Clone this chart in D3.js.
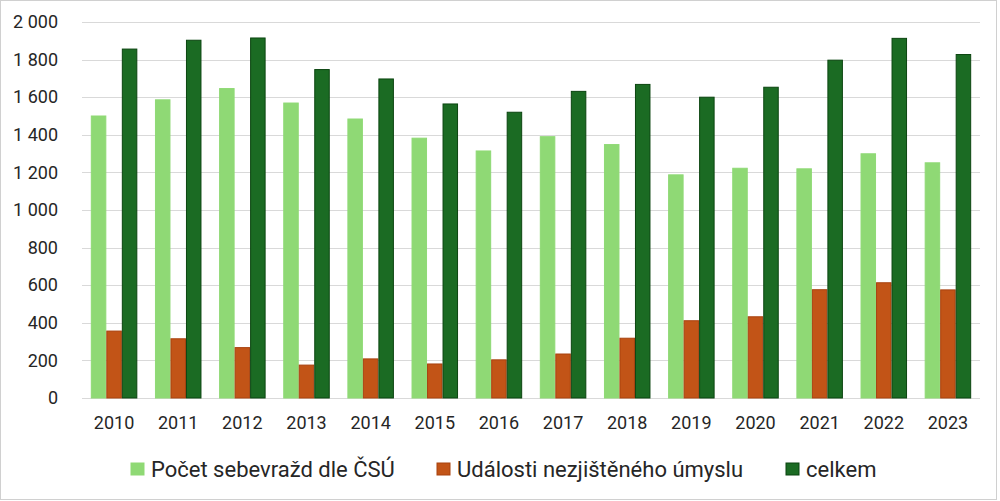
<!DOCTYPE html>
<html>
<head>
<meta charset="utf-8">
<script src="https://cdn.jsdelivr.net/npm/d3@7"></script>
<style>
  html, body { margin: 0; padding: 0; background: #fff; }
  text { font-family: Roboto, "Noto Sans", sans-serif; fill: #262626; }
</style>
</head>
<body>
<div id="chart"></div>
<script>
// data
const years = ["2010", "2011", "2012", "2013", "2014", "2015", "2016",
  "2017", "2018", "2019", "2020", "2021", "2022", "2023"];
const seriesNames = ["Počet sebevražd dle ČSÚ", "Události nezjištěného úmyslu", "celkem"];
const sebevrazdy = [1500, 1586, 1646, 1569, 1484, 1382, 1314, 1390, 1348, 1187, 1222, 1219, 1299, 1251];
const nezjisteno = [356, 315, 268, 175, 208, 181, 203, 234, 318, 411, 432, 576, 613, 575];
const celkem = [1856, 1903, 1915, 1747, 1697, 1564, 1520, 1631, 1668, 1600, 1653, 1797, 1913, 1827];
const yTicks = [0, 200, 400, 600, 800, 1000, 1200, 1400, 1600, 1800, 2000];

const colors = ["#8fd975", "#c25417", "#1b6b23"];
const strokes = ["#8fd975", "#a8420f", "#0b4510"];

const width = 1000;
const height = 501;
const margin = { top: 22, right: 20, bottom: 103, left: 82 };

const svg = d3.select("#chart")
  .append("svg")
  .attr("width", width)
  .attr("height", height);

// outer frame
svg.append("rect")
  .attr("x", 0.5).attr("y", 0.5)
  .attr("width", 996).attr("height", 499)
  .attr("fill", "#fff")
  .attr("stroke", "#d0d0d0");

const y = d3.scaleLinear()
  .domain([0, 2000])
  .range([398, margin.top]);

const x0 = d3.scaleBand()
  .domain(years)
  .range([margin.left, 980])
  .paddingInner(0.275)
  .paddingOuter(0.1375);

const x1 = d3.scaleBand()
  .domain(d3.range(3))
  .range([0, x0.bandwidth()]);

const locale = d3.formatLocale({ decimal: ",", thousands: " ", grouping: [3], currency: ["", " Kč"] });
const fmt = locale.format(",d");

// gridlines
svg.append("g")
  .selectAll("line")
  .data(yTicks)
  .join("line")
  .attr("x1", margin.left)
  .attr("x2", 980)
  .attr("y1", d => Math.round(y(d)) + 0.5)
  .attr("y2", d => Math.round(y(d)) + 0.5)
  .attr("stroke", "#d9d9d9")
  .attr("stroke-width", 1);

// y axis labels
const yAxis = svg.append("g")
  .attr("transform", `translate(${margin.left},0)`)
  .call(d3.axisLeft(y).tickValues(yTicks).tickFormat(fmt).tickSize(0).tickPadding(24));
yAxis.select(".domain").remove();
yAxis.selectAll("text")
  .style("font-size", "18px")
  .attr("fill", "#262626");

// x axis labels
const xAxis = svg.append("g")
  .attr("transform", "translate(0,398)")
  .call(d3.axisBottom(x0).tickSize(0).tickPadding(18));
xAxis.select(".domain").remove();
xAxis.selectAll("text")
  .style("font-size", "18px")
  .attr("fill", "#262626");

// bars
const data = years.map((yr, i) => ({
  year: yr,
  values: [sebevrazdy[i], nezjisteno[i], celkem[i]]
}));

const groups = svg.append("g")
  .selectAll("g")
  .data(data)
  .join("g")
  .attr("transform", d => `translate(${x0(d.year)},0)`);

groups.selectAll("rect")
  .data(d => d.values.map((v, k) => ({ k, v })))
  .join("rect")
  .attr("x", d => x1(d.k) + 0.5)
  .attr("y", d => y(d.v))
  .attr("width", x1.bandwidth() - 1)
  .attr("height", d => y(0) - y(d.v))
  .attr("fill", d => colors[d.k])
  .attr("stroke", d => strokes[d.k])
  .attr("stroke-width", 1);

// legend
const legendX = [131, 437, 786];
const legend = svg.append("g")
  .selectAll("g")
  .data(seriesNames)
  .join("g")
  .attr("transform", (d, i) => `translate(${legendX[i]},463)`);

legend.append("rect")
  .attr("width", 13)
  .attr("height", 12)
  .attr("fill", (d, i) => colors[i])
  .attr("stroke", (d, i) => strokes[i]);

legend.append("text")
  .attr("x", 20)
  .attr("y", 6)
  .attr("dy", "0.36em")
  .style("font-size", "22px")
  .text(d => d);
</script>
</body>
</html>
